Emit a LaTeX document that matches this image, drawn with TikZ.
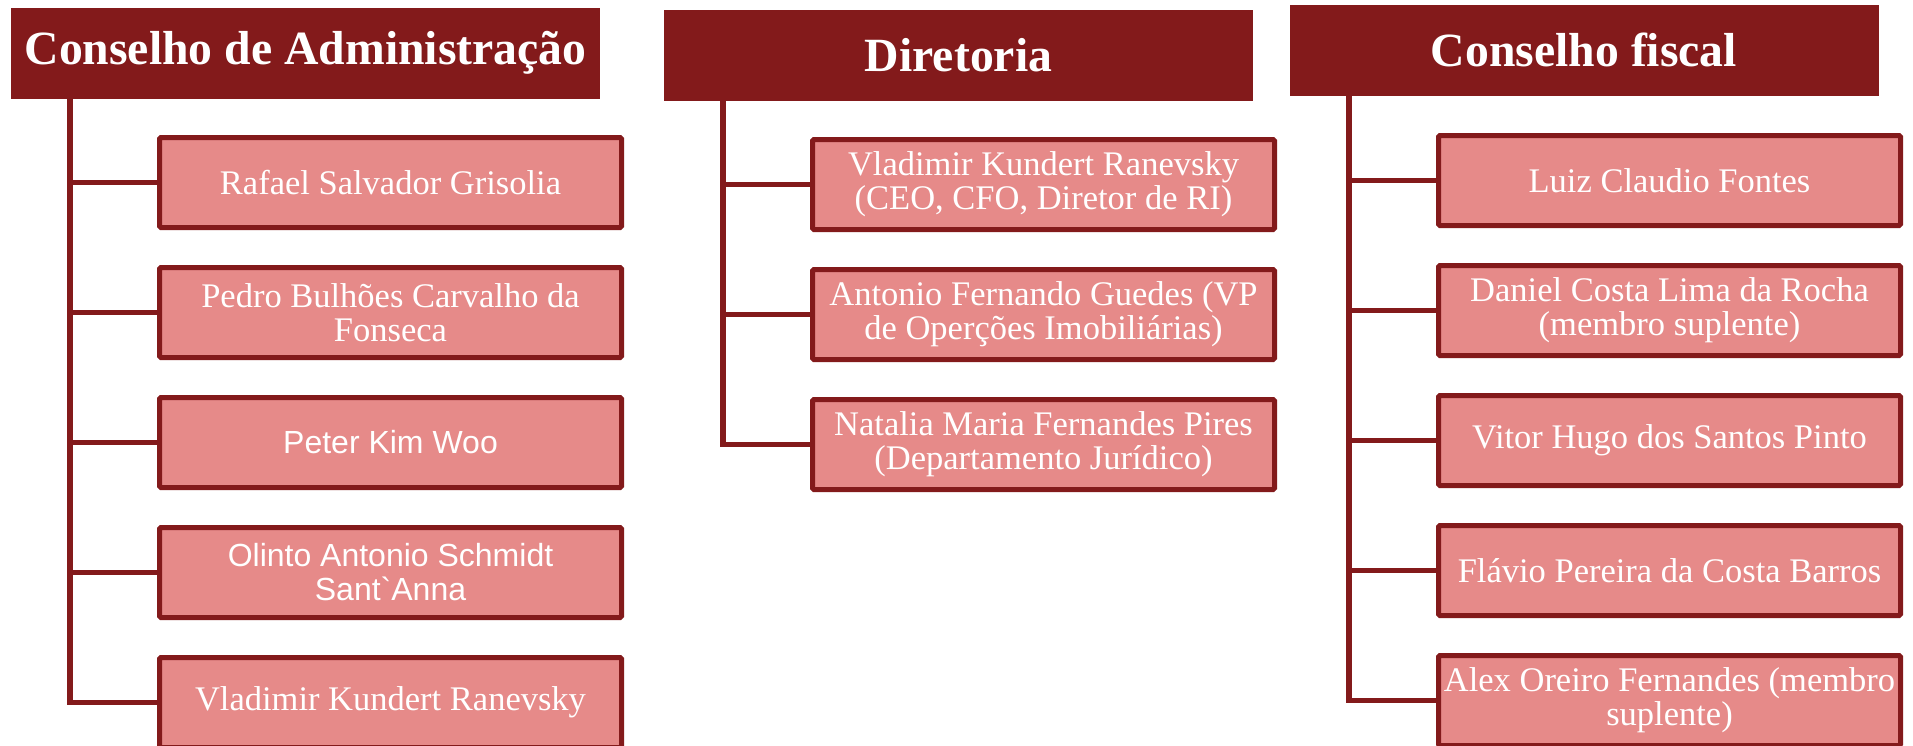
\documentclass[tikz,border=0pt]{standalone}
\usepackage{fontspec}
\setmainfont{Liberation Serif}
\newfontfamily\arialfont{Liberation Sans}
\usetikzlibrary{positioning}
\definecolor{boardred}{HTML}{831A1B}
\definecolor{memberpink}{HTML}{E68A89}

\begin{document}
\begin{tikzpicture}[x=1pt,y=-1pt,node distance=35pt,
    head/.style={fill=boardred,text=white,minimum width=589pt,minimum height=91pt,inner sep=0pt,
                 font=\bfseries\fontsize{47.7}{50}\selectfont},
    member/.style={draw=boardred,line width=5pt,fill=memberpink,text=white,minimum width=462pt,
                   minimum height=90pt,inner sep=0pt,align=center,rounded corners=1.5pt,
                   font=\fontsize{34.5}{34}\selectfont},
    sans/.style={font=\arialfont\fontsize{32}{34}\selectfont},
    link/.style={draw=boardred,line width=5.5pt}]

            \useasboundingbox (0,0) rectangle (1913,745);

            % headers
            \node[head] (hdA) at (305.5,53) {Conselho de Administração};

            \node[head] (hdB) at (958.5,55) {Diretoria};

            \node[head] (hdC) at (1584,50) {Conselho fiscal};

            % conselho de administracao
            \node[member] (a1) at (390.5,182.5) {Rafael Salvador Grisolia};

            \node[member] (a2) [below=of a1] {Pedro Bulhões Carvalho da\\Fonseca};

            \node[member,sans] (a3) [below=of a2] {Peter Kim Woo};

            \node[member,sans] (a4) [below=of a3] {Olinto Antonio Schmidt\\Sant\textasciigrave Anna};

            \node[member] (a5) [below=of a4] {Vladimir Kundert Ranevsky};

            % diretoria
            \node[member] (b1) at (1043.5,184.5) {Vladimir Kundert Ranevsky\\(CEO, CFO, Diretor de RI)};

            \node[member] (b2) [below=of b1] {Antonio Fernando Guedes (VP\\de Operções Imobiliárias)};

            \node[member] (b3) [below=of b2] {Natalia Maria Fernandes Pires\\(Departamento Jurídico)};

            % conselho fiscal
            \node[member] (c1) at (1669.5,180.5) {Luiz Claudio Fontes};

            \node[member] (c2) [below=of c1] {Daniel Costa Lima da Rocha\\(membro suplente)};

            \node[member] (c3) [below=of c2] {Vitor Hugo dos Santos Pinto};

            \node[member] (c4) [below=of c3] {Flávio Pereira da Costa Barros};

            \node[member] (c5) [below=of c4] {Alex Oreiro Fernandes (membro\\suplente)};

            % spines
            \coordinate (sA) at ([xshift=59pt]hdA.south west);
            \coordinate (sB) at ([xshift=59pt]hdB.south west);
            \coordinate (sC) at ([xshift=59.5pt]hdC.south west);

            \draw[link] (sA) |- (a5.west);
            \foreach \i in {1,...,4} \draw[link] (sA |- a\i.west) -- (a\i.west);

            \draw[link] (sB) |- (b3.west);
            \foreach \i in {1,2} \draw[link] (sB |- b\i.west) -- (b\i.west);

            \draw[link] (sC) |- (c5.west);
            \foreach \i in {1,...,4} \draw[link] (sC |- c\i.west) -- (c\i.west);

        \end{tikzpicture}
\end{document}
